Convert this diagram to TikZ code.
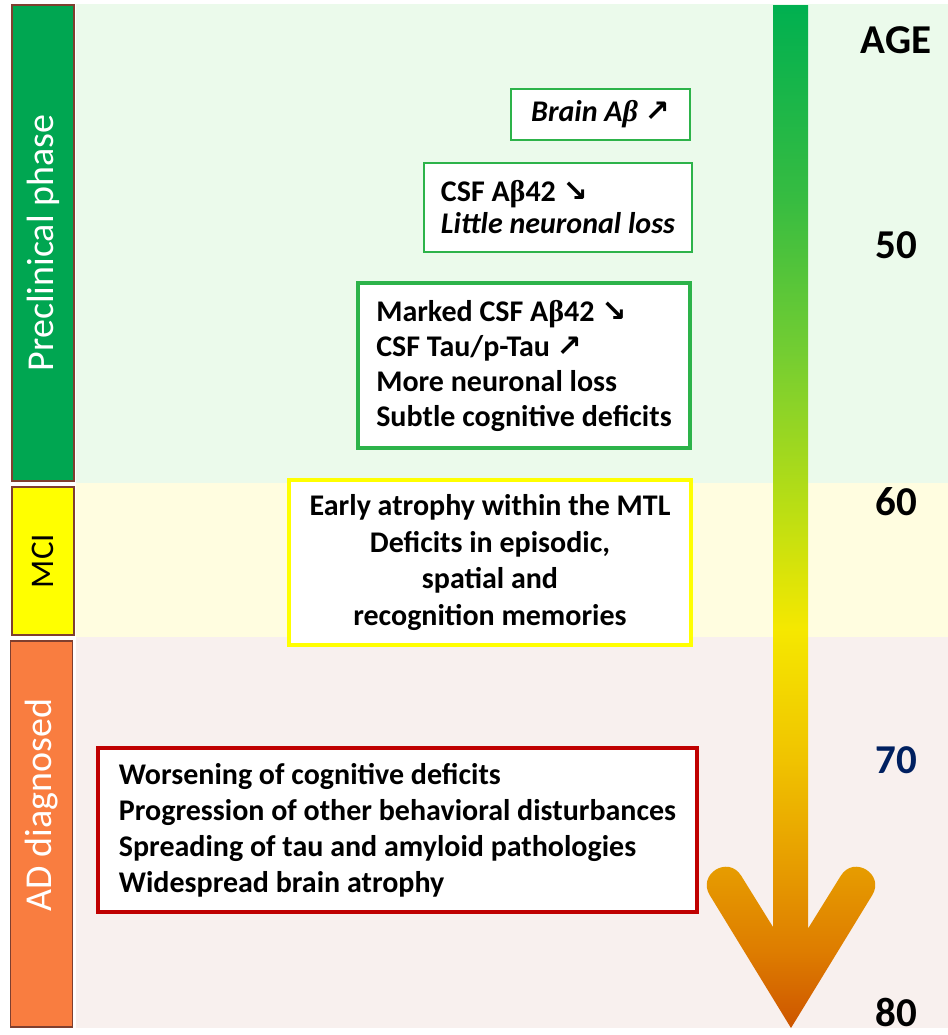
\documentclass[tikz,border=0pt]{standalone}
\usepackage{fontspec}
\setmainfont{Carlito}
\newfontfamily\arrowfont{DejaVu Sans}
\newfontfamily\greekfont{Liberation Serif}

\definecolor{bandgreen}{HTML}{EBFAEB}
\definecolor{bandyellow}{HTML}{FFFDE0}
\definecolor{bandpink}{HTML}{F8F0EE}
\definecolor{bargreen}{HTML}{00A651}
\definecolor{baryellow}{HTML}{FFFF00}
\definecolor{barorange}{HTML}{F97D40}
\definecolor{barline}{HTML}{7F3F2F}
\definecolor{boxgreen}{HTML}{2DB34A}
\definecolor{boxyellow}{HTML}{FFFF00}
\definecolor{boxred}{HTML}{C00000}
\definecolor{agenavy}{HTML}{002060}
\definecolor{arrowA}{RGB}{205,85,0}
\definecolor{arrowB}{RGB}{222,125,0}
\definecolor{arrowC}{RGB}{230,155,0}
\definecolor{arrowD}{RGB}{240,195,0}
\definecolor{arrowE}{RGB}{245,232,0}
\definecolor{arrowF}{RGB}{185,222,20}
\definecolor{arrowG}{RGB}{115,205,50}
\definecolor{arrowH}{RGB}{55,188,65}
\definecolor{arrowI}{RGB}{0,176,80}

\pgfdeclareverticalshading{agearrow}{100bp}{color(0bp)=(arrowA); color(25bp)=(arrowA);
  color(28.8bp)=(arrowB); color(32.7bp)=(arrowC); color(38.1bp)=(arrowD);
  color(44.5bp)=(arrowE); color(50.5bp)=(arrowF); color(58.1bp)=(arrowG);
  color(65.5bp)=(arrowH); color(75bp)=(arrowI); color(100bp)=(arrowI)}

\tikzset{
  phasebar/.style={draw=barline, line width=0.75pt, rotate=90, minimum height=31pt, inner sep=0pt},
  phaselabel/.style={rotate=90, inner sep=0pt, font=\fontsize{19}{22}\selectfont},
  infobox/.style={fill=white, line width=1pt, inner xsep=8pt, inner ysep=0pt, align=left,
    font=\bfseries\fontsize{15}{17.5}\selectfont},
  agelabel/.style={inner sep=0pt, font=\bfseries\fontsize{20.5}{24}\selectfont}
}

\begin{document}
\begin{tikzpicture}[x=0.5pt, y=-0.5pt]
    \useasboundingbox (0,0) rectangle (948,1035);
    % phase bands
    \fill[bandgreen] (76,4) rectangle (948,483);
    \fill[bandyellow] (76,483) rectangle (948,637);
    \fill[bandpink] (76,637) rectangle (948,1028);

    % phase bars
    \node[phasebar, fill=bargreen, minimum width=238pt] (prebar) at (43,243) {};
    \node[phasebar, fill=baryellow, minimum width=74pt] (mcibar) at (43,561) {};
    \node[phasebar, fill=barorange, minimum width=193pt] (adbar) at (41.5,834) {};
    \node[phaselabel, text=white] (prelabel) at (prebar.center) {Preclinical phase};
    \node[phaselabel, font=\fontsize{16.5}{19}\selectfont] (mcilabel) at (mcibar.center) {MCI};
    \node[phaselabel, text=white] (adlabel) at (41.5,805) {AD diagnosed};

    % age arrow
    \shade[shading=agearrow] (773,5) -- (808,5) -- (808,928.6) -- (840.8,875.75)
        .. controls (853.8,854.75) and (885.2,874.2) .. (872.2,895.2) -- (791,1028)
        -- (709.8,895.2) .. controls (696.8,874.2) and (728.2,854.75) .. (741.2,875.75)
        -- (773,927) -- cycle;

    % ages
    \node[agelabel] (age) at (896,40) {AGE};
    \node[agelabel] (age50) at (896,245) {50};
    \node[agelabel] (age60) at (896,502) {60};
    \node[agelabel, text=agenavy] (age70) at (896,760) {70};
    \node[agelabel] (age80) at (896,1012) {80};

    % findings
    \node[infobox, draw=boxgreen, align=center, minimum width=89.5pt, minimum height=25.5pt]
        (brainbox) at (600.5,114.5) {\itshape Brain A{\greekfont β} {\arrowfont\upshape ↗}};
    \node[infobox, draw=boxgreen, minimum width=134pt, minimum height=44.5pt,
        font=\bfseries\fontsize{15}{16}\selectfont]
        (csfbox) at (558,207.5) {CSF A{\greekfont β}42 {\arrowfont ↘}\\\textit{Little neuronal loss}};
    \node[infobox, draw=boxgreen, line width=2pt, minimum width=166pt, minimum height=82.5pt]
        (markedbox) at (524,365.5) {Marked CSF A{\greekfont β}42 {\arrowfont ↘}\\CSF Tau/p-Tau {\arrowfont ↗}\\More neuronal loss\\Subtle cognitive deficits};
    \node[infobox, draw=boxyellow, line width=2.25pt, align=center, minimum width=201pt, minimum height=82.5pt,
        font=\bfseries\fontsize{15}{18.3}\selectfont]
        (mcibox) at (490,562.5) {Early atrophy within the MTL\\Deficits in episodic,\\spatial and\\recognition memories};
    \node[infobox, draw=boxred, line width=2.25pt, minimum width=299.5pt, minimum height=82pt,
        font=\bfseries\fontsize{15}{18}\selectfont]
        (adbox) at (397.5,830) {Worsening of cognitive deficits\\Progression of other behavioral disturbances\\Spreading of tau and amyloid pathologies\\Widespread brain atrophy};
\end{tikzpicture}
\end{document}
